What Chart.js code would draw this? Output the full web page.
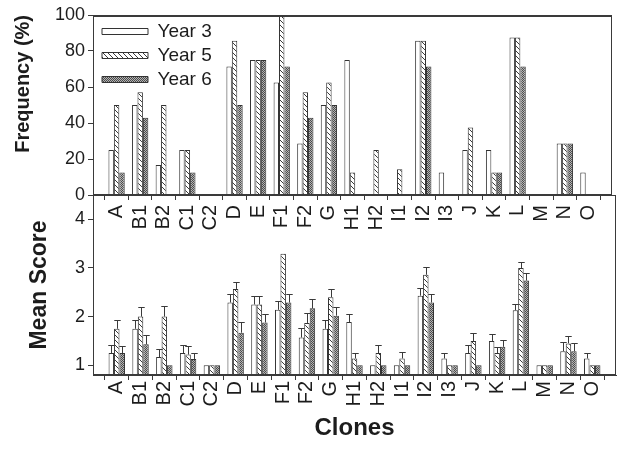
<!DOCTYPE html>
<html>
<head>
<meta charset="utf-8">
<script src="https://cdn.jsdelivr.net/npm/chart.js@4.4.1/dist/chart.umd.min.js"></script>
<style>
  html, body { margin: 0; padding: 0; background: #fff; }
  #wrap { position: relative; width: 641px; height: 454px; }
  #wrap canvas { position: absolute; left: 0; top: 0; }
</style>
</head>
<body>
<div id="wrap">
  <canvas id="scoreChart" width="641" height="454"></canvas>
  <canvas id="freqChart" width="641" height="454"></canvas>
</div>
<script>
// data
const clones = ['A', 'B1', 'B2', 'C1', 'C2', 'D', 'E', 'F1', 'F2', 'G', 'H1', 'H2', 'I1', 'I2', 'I3', 'J', 'K', 'L', 'M', 'N', 'O'];
const seriesNames = ['Year 3', 'Year 5', 'Year 6'];

// frequency (%)
const freqY3 = [25, 50, 16.7, 25, 0, 71.4, 75, 62.5, 28.6, 50, 75, 0, 0, 85.7, 12.5, 25, 25, 87.5, 0, 28.6, 12.5];
const freqY5 = [50, 57.1, 50, 25, 0, 85.7, 75, 100, 57.1, 62.5, 12.5, 25, 14.3, 85.7, 0, 37.5, 12.5, 87.5, 0, 28.6, 0];
const freqY6 = [12.5, 42.9, 0, 12.5, 0, 50, 75, 71.4, 42.9, 50, 0, 0, 0, 71.4, 0, 0, 12.5, 71.4, 0, 28.6, 0];
const freqTicks = [0, 20, 40, 60, 80, 100];

// mean score and error (upper bar only)
const scoreY3 = [1.25, 1.75, 1.17, 1.25, 1, 2.29, 2.25, 2.14, 1.57, 1.75, 1.89, 1, 1, 2.43, 1.14, 1.25, 1.5, 2.13, 1, 1.29, 1.14];
const scoreY5 = [1.75, 2, 2, 1.22, 1, 2.57, 2.25, 3.29, 1.87, 2.4, 1.14, 1.25, 1.14, 2.86, 1, 1.5, 1.25, 3, 1, 1.45, 1];
const scoreY6 = [1.25, 1.43, 1, 1.13, 1, 1.67, 1.88, 2.29, 2.17, 2.02, 1, 1, 1, 2.29, 1, 1, 1.38, 2.74, 1, 1.29, 1];
const errY3 = [0.17, 0.19, 0.17, 0.17, 0, 0.18, 0.17, 0.19, 0.2, 0.19, 0.16, 0, 0, 0.15, 0.11, 0.16, 0.15, 0.12, 0, 0.18, 0.12];
const errY5 = [0.19, 0.2, 0.22, 0.17, 0, 0.14, 0.17, 0, 0.21, 0.16, 0.11, 0.17, 0.14, 0.15, 0, 0.17, 0.12, 0.12, 0, 0.16, 0];
const errY6 = [0.15, 0.2, 0, 0.13, 0, 0.22, 0.17, 0.18, 0.2, 0.18, 0, 0, 0, 0.18, 0, 0, 0.13, 0.15, 0, 0.17, 0];
const scoreTicks = [1, 2, 3, 4];

// one empty slot at each end, the original leaves a full category of room
const axisLabels = ['', ...clones, ''];
const pad = arr => [null, ...arr, null];

const INK = '#1c1c1c';
const LINE = '#3a3a3a';
Chart.defaults.font.family = "'Liberation Sans', Arial, sans-serif";
Chart.defaults.color = INK;

// fill patterns
function makePattern(size, paint) {
  const c = document.createElement('canvas');
  c.width = size; c.height = size;
  const g = c.getContext('2d');
  g.fillStyle = '#fff';
  g.fillRect(0, 0, size, size);
  paint(g, size);
  return g.createPattern(c, 'repeat');
}
const plainFill = '#ffffff';
const hatchFill = makePattern(5, (g, s) => {
  g.strokeStyle = '#3a3a3a';
  g.lineWidth = 1;
  g.beginPath();
  g.moveTo(-1, -1); g.lineTo(s + 1, s + 1);
  g.moveTo(-1, s - 1); g.lineTo(1, s + 1);
  g.moveTo(s - 1, -1); g.lineTo(s + 1, 1);
  g.stroke();
});
const dotFill = makePattern(2, (g) => {
  g.fillStyle = '#b4b4b4';
  g.fillRect(0, 0, 2, 2);
  g.fillStyle = '#4a4a4a';
  g.fillRect(0, 0, 1, 1);
  g.fillRect(1, 1, 1, 1);
});
const fills = [plainFill, hatchFill, dotFill];

// box round the plot area
const framePlugin = {
  id: 'frame',
  afterDraw(chart, args, opts) {
    const { ctx, chartArea: a } = chart;
    ctx.save();
    ctx.strokeStyle = LINE;
    ctx.lineWidth = 1;
    ctx.strokeRect(a.left + 0.5, a.top + 0.5, a.width - 1, a.height - 1);
    if (opts.heavyTop) {
      ctx.lineWidth = 2;
      ctx.beginPath();
      ctx.moveTo(a.left, a.top + 1);
      ctx.lineTo(a.right, a.top + 1);
      ctx.stroke();
    }
    ctx.restore();
  }
};

// legend sits inside the plot, top left
const legendSpot = {
  id: 'legendSpot',
  afterLayout(chart, args, opts) {
    if (!chart.legend) return;
    chart.legend.left = opts.x;
    chart.legend.top = opts.y;
  }
};

// upper error bars on the mean score bars
const errorBars = {
  id: 'errorBars',
  afterDatasetsDraw(chart) {
    const { ctx } = chart;
    const y = chart.scales.y;
    ctx.save();
    ctx.strokeStyle = LINE;
    ctx.lineWidth = 1;
    chart.data.datasets.forEach((ds, di) => {
      const meta = chart.getDatasetMeta(di);
      meta.data.forEach((bar, i) => {
        const err = ds.errors[i];
        if (!err) return;
        const top = Math.round(y.getPixelForValue(ds.data[i] + err)) + 0.5;
        const x = Math.round(bar.x) + 0.5;
        const half = bar.width / 2 + 0.5;
        ctx.beginPath();
        ctx.moveTo(x, bar.y);
        ctx.lineTo(x, top);
        ctx.moveTo(x - half, top);
        ctx.lineTo(x + half, top);
        ctx.stroke();
      });
    });
    ctx.restore();
  }
};

function xAxis(height, labelPad, title) {
  return {
    type: 'category',
    offset: false,
    afterFit: s => { s.height = height; },
    grid: { drawOnChartArea: false, drawTicks: true, tickLength: 5, color: LINE },
    border: { display: true, color: LINE },
    ticks: { autoSkip: false, minRotation: 90, maxRotation: 90, padding: labelPad, font: { size: 20 }, color: INK },
    title: title
  };
}

function yAxis(titleText, titleSize, titlePad, align) {
  return {
    afterFit: s => { s.width = 93; },
    grid: { drawOnChartArea: false, drawTicks: true, tickLength: 5, color: LINE },
    border: { display: true, color: LINE },
    ticks: { font: { size: 18 }, color: INK, padding: 3 },
    title: {
      display: true, text: titleText, align: align,
      font: { size: titleSize, weight: 'bold' }, color: INK,
      padding: { top: titlePad, bottom: 0 }
    }
  };
}

const barLook = { borderColor: '#333', borderWidth: 1, categoryPercentage: 0.69, barPercentage: 1 };

// top panel: frequency
const freqY = yAxis('Frequency (%)', 20, 11, 'end');
freqY.min = 0; freqY.max = 100;
freqY.afterBuildTicks = s => { s.ticks = freqTicks.map(v => ({ value: v })); };

new Chart(document.getElementById('freqChart'), {
  type: 'bar',
  data: {
    labels: axisLabels,
    datasets: [freqY3, freqY5, freqY6].map((vals, k) => ({
      label: seriesNames[k],
      data: pad(vals),
      backgroundColor: fills[k],
      ...barLook
    }))
  },
  options: {
    responsive: false,
    animation: false,
    events: [],
    layout: { padding: { top: 15, right: 2, left: 0, bottom: 0 } },
    scales: { x: xAxis(259, 5, { display: false }), y: freqY },
    plugins: {
      legend: {
        position: 'chartArea',
        align: 'start',
        labels: { boxWidth: 46, boxHeight: 6, padding: 5, font: { size: 19 }, color: INK }
      },
      legendSpot: { x: 97, y: 17 },
      frame: { heavyTop: true },
      tooltip: { enabled: false }
    }
  },
  plugins: [legendSpot, framePlugin]
});

// bottom panel: mean score
const scoreY = yAxis('Mean Score', 23, 26, 'center');
scoreY.min = 0.8; scoreY.max = 4.5;
scoreY.afterBuildTicks = s => { s.ticks = scoreTicks.map(v => ({ value: v })); };

new Chart(document.getElementById('scoreChart'), {
  type: 'bar',
  data: {
    labels: axisLabels,
    datasets: [[scoreY3, errY3], [scoreY5, errY5], [scoreY6, errY6]].map(([vals, errs], k) => ({
      label: seriesNames[k],
      data: pad(vals),
      errors: pad(errs),
      backgroundColor: fills[k],
      ...barLook
    }))
  },
  options: {
    responsive: false,
    animation: false,
    events: [],
    layout: { padding: { top: 195, right: 2, left: 0, bottom: 0 } },
    scales: {
      x: xAxis(79, 1, { display: true, text: 'Clones', font: { size: 24, weight: 'bold' }, color: INK, padding: { top: 0, bottom: 11 } }),
      y: scoreY
    },
    plugins: {
      legend: { display: false },
      tooltip: { enabled: false }
    }
  },
  plugins: [errorBars, framePlugin]
});
</script>
</body>
</html>
